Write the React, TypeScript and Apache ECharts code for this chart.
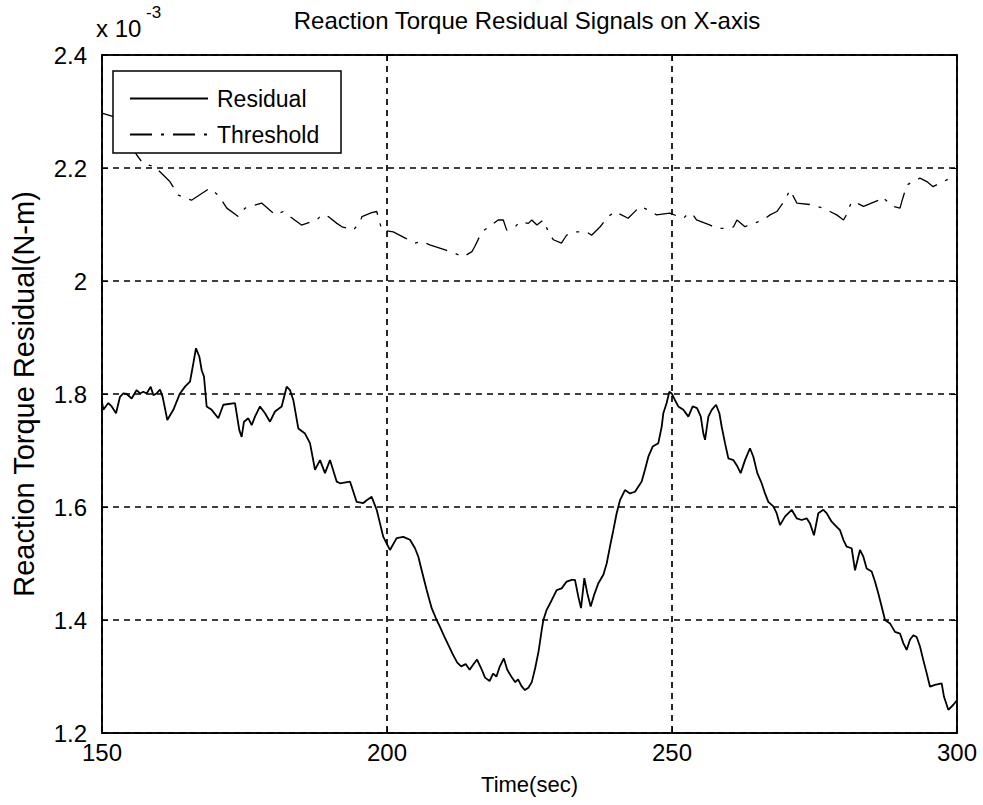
import React, { useEffect, useRef } from "react";
import * as echarts from "echarts";

const FONT = '"Liberation Sans", Arial, sans-serif';

const titleText = "Reaction Torque Residual Signals on X-axis";
const xName = "Time(sec)";
const yName = "Reaction Torque Residual(N-m)";
const seriesNames = ["Residual", "Threshold"];

const residualTime = [
  150.0, 150.23, 151.11, 151.7, 152.46, 153.16, 153.74, 154.33, 155.2, 156.08, 156.67, 157.25, 157.84, 158.54,
  159.01, 159.59, 160.18, 160.64, 161.46, 162.51, 163.68, 164.56, 165.44, 166.02, 166.49, 167.08, 167.49, 167.89,
  168.36, 169.24, 170.41, 171.29, 173.33, 174.09, 174.5, 174.91, 175.67, 176.26, 176.84, 177.72, 178.6, 179.47,
  180.35, 181.52, 182.4, 182.98, 183.57, 184.44, 185.61, 186.49, 187.37, 188.25, 189.12, 190.0, 191.17, 191.75,
  193.51, 194.68, 195.85, 196.43, 197.31, 198.19, 198.77, 199.35, 200.52, 201.69, 202.86, 204.03, 204.91, 205.5,
  206.08, 206.96, 207.84, 208.71, 209.3, 210.0, 210.8, 211.5, 212.3, 213.0, 213.8, 214.5, 215.2, 215.8,
  216.5, 217.2, 218.0, 218.6, 219.2, 219.8, 220.5, 221.1, 221.8, 222.5, 223.0, 223.6, 224.2, 224.8,
  225.4, 226.0, 226.6, 227.14, 227.43, 228.01, 228.89, 229.77, 230.64, 231.52, 232.4, 232.98, 233.57, 234.04,
  234.62, 235.15, 235.73, 236.32, 237.08, 237.96, 238.54, 239.12, 239.71, 240.29, 240.88, 241.75, 242.63, 243.51,
  244.68, 245.26, 245.85, 246.61, 247.6, 248.19, 248.48, 249.06, 249.53, 249.94, 250.53, 251.11, 251.99, 252.87,
  253.63, 254.39, 255.05, 255.5, 255.8, 256.38, 256.97, 257.73, 258.31, 258.72, 259.3, 259.89, 260.76, 261.35,
  262.05, 262.81, 263.68, 264.27, 264.97, 265.73, 266.32, 266.9, 267.78, 268.36, 268.95, 269.82, 270.99, 271.87,
  272.75, 273.63, 274.21, 274.91, 275.67, 276.55, 277.13, 278.01, 278.89, 279.47, 280.06, 280.64, 281.52, 282.11,
  282.98, 283.57, 284.15, 285.03, 285.61, 286.2, 286.78, 287.37, 288.25, 289.12, 290.0, 290.58, 291.17, 291.75,
  292.34, 292.92, 293.51, 294.09, 294.68, 295.26, 296.14, 297.31, 297.72, 298.48, 299.36, 300.0,
];
const residualValue = [
  1.786, 1.772, 1.784, 1.778, 1.766, 1.795, 1.801, 1.8, 1.792, 1.807, 1.801, 1.804, 1.801, 1.813,
  1.798, 1.801, 1.808, 1.795, 1.754, 1.772, 1.801, 1.813, 1.822, 1.854, 1.881, 1.866, 1.842, 1.831,
  1.778, 1.772, 1.757, 1.781, 1.784, 1.736, 1.724, 1.751, 1.757, 1.745, 1.76, 1.778, 1.766, 1.751,
  1.769, 1.778, 1.813, 1.807, 1.789, 1.739, 1.73, 1.713, 1.666, 1.683, 1.66, 1.683, 1.645, 1.642,
  1.645, 1.609, 1.607, 1.612, 1.618, 1.595, 1.571, 1.547, 1.524, 1.545, 1.547, 1.542, 1.527, 1.512,
  1.488, 1.453, 1.421, 1.4, 1.388, 1.372, 1.355, 1.34, 1.325, 1.318, 1.322, 1.312, 1.322, 1.33,
  1.315, 1.298, 1.292, 1.305, 1.3, 1.318, 1.332, 1.312, 1.3, 1.29, 1.295, 1.283, 1.276, 1.28,
  1.29, 1.315, 1.345, 1.382, 1.4, 1.418, 1.435, 1.453, 1.456, 1.468, 1.471, 1.471, 1.441, 1.421,
  1.474, 1.447, 1.424, 1.444, 1.465, 1.48, 1.5, 1.53, 1.559, 1.589, 1.612, 1.63, 1.624, 1.627,
  1.645, 1.666, 1.689, 1.707, 1.713, 1.742, 1.766, 1.784, 1.804, 1.801, 1.789, 1.778, 1.772, 1.76,
  1.778, 1.775, 1.76, 1.73, 1.719, 1.76, 1.772, 1.781, 1.766, 1.742, 1.713, 1.686, 1.683, 1.674,
  1.66, 1.683, 1.704, 1.689, 1.66, 1.642, 1.624, 1.609, 1.601, 1.589, 1.568, 1.583, 1.595, 1.58,
  1.577, 1.58, 1.571, 1.55, 1.589, 1.595, 1.589, 1.574, 1.565, 1.559, 1.542, 1.53, 1.527, 1.488,
  1.524, 1.512, 1.491, 1.486, 1.468, 1.447, 1.424, 1.4, 1.394, 1.379, 1.376, 1.359, 1.347, 1.365,
  1.373, 1.37, 1.353, 1.329, 1.306, 1.282, 1.285, 1.288, 1.264, 1.241, 1.25, 1.258,
];

const thresholdTime = [
  150.0, 151.0, 152.3, 153.5, 154.8, 156.1, 157.2, 159.3, 161.9, 163.4, 165.7, 168.9, 170.4, 171.9,
  173.9, 175.1, 178.0, 180.4, 181.8, 183.0, 185.0, 185.9, 187.7, 188.5, 189.7, 191.2, 192.1, 194.1,
  195.3, 195.6, 197.3, 198.2, 199.1, 201.1, 203.2, 204.9, 206.1, 207.5, 210.2, 211.1, 213.4, 214.9,
  215.4, 216.5, 217.2, 219.5, 220.4, 221.0, 222.5, 223.3, 224.8, 225.4, 226.3, 227.4, 228.6, 229.2,
  230.6, 231.5, 232.7, 235.0, 235.9, 237.4, 238.8, 240.0, 242.3, 244.4, 245.8, 247.3, 249.6, 252.0,
  252.9, 253.7, 254.3, 256.7, 257.8, 259.6, 260.8, 261.4, 262.8, 263.4, 266.0, 267.2, 268.4, 269.8,
  270.7, 271.9, 274.5, 276.5, 277.7, 278.9, 280.1, 280.6, 281.5, 282.4, 283.6, 286.2, 286.8, 288.8,
  290.0, 290.3, 291.2, 293.5, 294.7, 295.8, 298.2, 298.8, 300.0,
];
const thresholdValue = [
  2.297, 2.294, 2.29, 2.275, 2.245, 2.223, 2.208, 2.202, 2.176, 2.152, 2.143, 2.164, 2.152, 2.129,
  2.114, 2.129, 2.138, 2.117, 2.123, 2.114, 2.099, 2.102, 2.108, 2.117, 2.114, 2.102, 2.096, 2.09,
  2.105, 2.114, 2.121, 2.123, 2.09, 2.087, 2.076, 2.067, 2.07, 2.064, 2.055, 2.052, 2.043, 2.052,
  2.061, 2.084, 2.091, 2.108, 2.108, 2.09, 2.096, 2.105, 2.102, 2.108, 2.099, 2.108, 2.081, 2.073,
  2.067, 2.081, 2.087, 2.087, 2.081, 2.096, 2.114, 2.123, 2.111, 2.132, 2.126, 2.117, 2.12, 2.111,
  2.12, 2.117, 2.108, 2.099, 2.093, 2.093, 2.096, 2.108, 2.096, 2.099, 2.108, 2.117, 2.123, 2.143,
  2.161, 2.138, 2.135, 2.129, 2.123, 2.117, 2.108, 2.117, 2.14, 2.138, 2.132, 2.143, 2.149, 2.132,
  2.129, 2.14, 2.17, 2.182, 2.176, 2.167, 2.179, 2.182, 2.178,
];

const xMin = 150;
const xMax = 300;
const xStep = 50;
const yMin = 1.2;
const yMax = 2.4;
const yStep = 0.2;
const scaleLabel = "x 10";
const scaleExp = "-3";

export default function App() {
  const ref = useRef<HTMLDivElement>(null);

  useEffect(() => {
    document.body.style.margin = "0";
    if (!ref.current) return;
    const chart = echarts.init(ref.current, null, { renderer: "svg" });

    const residual = residualTime.map((t, i) => [t, residualValue[i]]);
    const threshold = thresholdTime.map((t, i) => [t, thresholdValue[i]]);

    const black = "#000";
    const gridLine = { color: black, type: [6, 5] as any, width: 1.7 };

    chart.setOption({
      animation: false,
      backgroundColor: "#fff",
      title: {
        text: titleText,
        left: 522,
        top: 3,
        textAlign: "center",
        textStyle: { fontFamily: FONT, fontSize: 24, fontWeight: "normal", color: black },
      },
      grid: {
        left: 102,
        top: 55,
        right: 26,
        bottom: 72,
        show: true,
        borderColor: black,
        borderWidth: 1.5,
        backgroundColor: "transparent",
      },
      legend: {
        data: seriesNames,
        orient: "vertical",
        left: 124,
        top: 82,
        itemWidth: 78,
        itemHeight: 24,
        itemGap: 13,
        z: 20,
        itemStyle: { opacity: 0 },
        textStyle: { fontFamily: FONT, fontSize: 23, color: black, padding: [0, 0, 0, 4] },
      },
      graphic: [
        {
          type: "rect",
          z: 15,
          shape: { x: 113, y: 71, width: 228, height: 82 },
          style: { fill: "#fff", stroke: black, lineWidth: 1.5 },
        },
        {
          type: "text",
          z: 15,
          x: 96,
          y: 16,
          style: { text: scaleLabel, font: `24px ${FONT}`, fill: black },
        },
        {
          type: "text",
          z: 15,
          x: 146,
          y: 4,
          style: { text: scaleExp, font: `17px ${FONT}`, fill: black },
        },
      ],
      xAxis: [
        {
          type: "value",
          min: xMin,
          max: xMax,
          interval: xStep,
          name: xName,
          nameLocation: "middle",
          nameGap: 40,
          nameTextStyle: { fontFamily: FONT, fontSize: 22, color: black },
          axisLine: { lineStyle: { color: black, width: 1.5 } },
          axisTick: { inside: true, length: 6, lineStyle: { color: black } },
          axisLabel: { fontFamily: FONT, fontSize: 24, color: black, margin: 7 },
          splitLine: { show: true, lineStyle: gridLine },
        },
        {
          type: "value",
          position: "top",
          min: xMin,
          max: xMax,
          interval: xStep,
          axisLine: { lineStyle: { color: black, width: 1.5 } },
          axisTick: { inside: true, length: 6, lineStyle: { color: black } },
          axisLabel: { show: false },
          splitLine: { show: false },
        },
      ],
      yAxis: [
        {
          type: "value",
          min: yMin,
          max: yMax,
          interval: yStep,
          name: yName,
          nameLocation: "middle",
          nameGap: 64,
          nameTextStyle: { fontFamily: FONT, fontSize: 29, color: black },
          axisLine: { show: true, lineStyle: { color: black, width: 1.5 } },
          axisTick: { show: true, inside: true, length: 6, lineStyle: { color: black } },
          axisLabel: { fontFamily: FONT, fontSize: 24, color: black, margin: 15 },
          splitLine: { show: true, lineStyle: gridLine },
        },
        {
          type: "value",
          position: "right",
          min: yMin,
          max: yMax,
          interval: yStep,
          axisLine: { show: true, lineStyle: { color: black, width: 1.5 } },
          axisTick: { show: true, inside: true, length: 6, lineStyle: { color: black } },
          axisLabel: { show: false },
          splitLine: { show: false },
        },
      ],
      series: [
        {
          name: seriesNames[0],
          type: "line",
          data: residual,
          xAxisIndex: 0,
          yAxisIndex: 0,
          symbol: "none",
          lineStyle: { color: black, width: 1.8, type: "solid" },
          itemStyle: { color: black },
          z: 5,
        },
        {
          name: seriesNames[1],
          type: "line",
          data: threshold,
          xAxisIndex: 0,
          yAxisIndex: 0,
          symbol: "none",
          lineStyle: { color: black, width: 1.3, type: [22, 9, 3, 9] },
          itemStyle: { color: black },
          z: 5,
        },
      ],
    });

    return () => chart.dispose();
  }, []);

  return <div ref={ref} style={{ width: 983, height: 805 }} />;
}
